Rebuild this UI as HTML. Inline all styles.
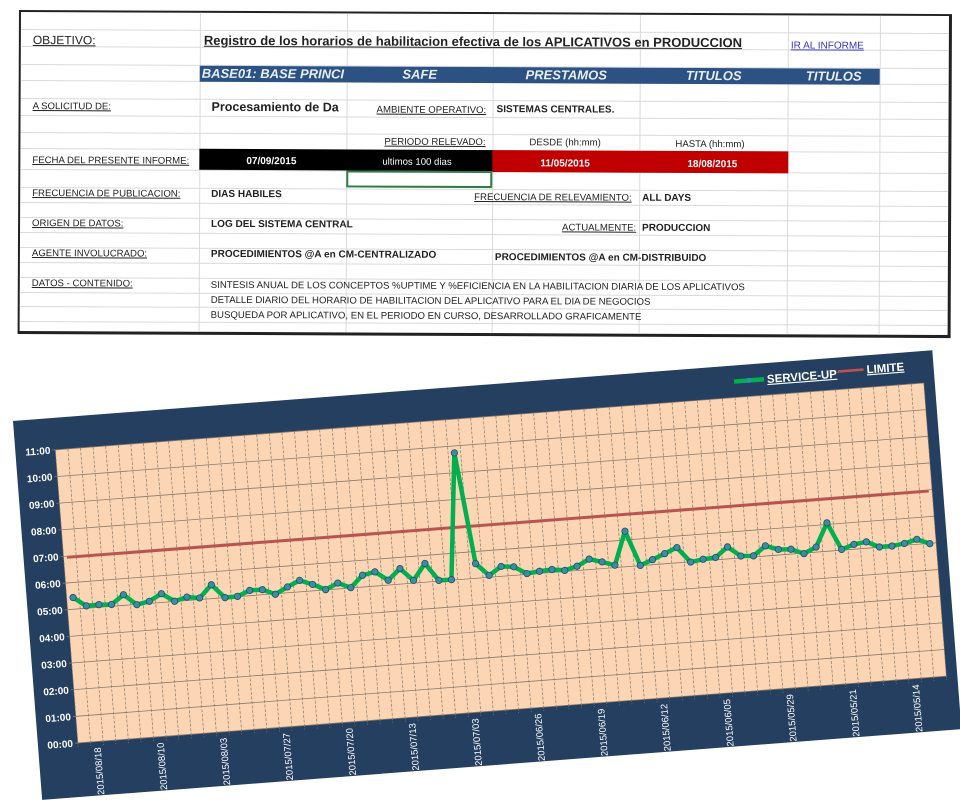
<!DOCTYPE html>
<html><head><meta charset="utf-8">
<style>
html,body{margin:0;padding:0;background:#fff;width:960px;height:800px;overflow:hidden;font-family:"Liberation Sans",Arial,sans-serif;}
#sheet{position:absolute;left:19px;top:10px;width:933px;height:324px;border:2px solid #222;border-right-width:3px;border-bottom-width:3px;transform:rotate(0.25deg);transform-origin:0 0;background:#fff;box-sizing:border-box;}
.hl{position:absolute;left:0;right:0;height:1px;background:#dadada;}
.vl{position:absolute;top:0;bottom:0;width:1px;background:#dadada;}
.t{position:absolute;font-size:10px;color:#222;white-space:nowrap;line-height:14px;}
.u{text-decoration:underline;}
.lb{font-size:9.6px;}
.b{font-weight:bold;}
.band{position:absolute;}
.hd{position:absolute;color:#e8eef6;font-weight:bold;font-style:italic;font-size:13px;text-align:center;line-height:16px;}
</style></head>
<body>
<div id="sheet">
  <div class="vl" style="left:179px"></div><div class="vl" style="left:326px"></div><div class="vl" style="left:472px"></div><div class="vl" style="left:619px"></div><div class="vl" style="left:767px"></div><div class="vl" style="left:859px"></div>
  <div class="hl" style="top:17px"></div><div class="hl" style="top:34px"></div><div class="hl" style="top:52px"></div><div class="hl" style="top:68px"></div><div class="hl" style="top:86px"></div><div class="hl" style="top:103px"></div><div class="hl" style="top:120px"></div><div class="hl" style="top:136px"></div><div class="hl" style="top:157px"></div><div class="hl" style="top:175px"></div><div class="hl" style="top:190px"></div><div class="hl" style="top:205px"></div><div class="hl" style="top:220px"></div><div class="hl" style="top:235px"></div><div class="hl" style="top:250px"></div><div class="hl" style="top:265px"></div><div class="hl" style="top:280px"></div><div class="hl" style="top:294px"></div><div class="hl" style="top:309px"></div>
  <div class="band" style="left:179px;top:53px;width:680px;height:16px;background:#2b5282"></div>
  <div class="hd" style="left:181px;top:53px;text-align:left">BASE01: BASE PRINCI</div>
  <div class="hd" style="left:326px;top:53px;width:146px">SAFE</div>
  <div class="hd" style="left:472px;top:53px;width:147px">PRESTAMOS</div>
  <div class="hd" style="left:619px;top:53px;width:148px">TITULOS</div>
  <div class="hd" style="left:767px;top:53px;width:92px">TITULOS</div>
  <div class="t u" style="left:12px;top:21px;font-size:12px">OBJETIVO:</div>
  <div class="t u b" style="left:183px;top:21px;font-size:13px">Registro de los horarios de habilitacion efectiva de los APLICATIVOS en PRODUCCION</div>
  <div class="t u" style="left:770px;top:24px;color:#3333cc">IR AL INFORME</div>
  <div class="t u lb" style="left:12px;top:88px">A SOLICITUD DE:</div>
  <div class="t b" style="left:191px;top:87px;font-size:12.5px">Procesamiento de Da</div>
  <div class="t u lb" style="left:356px;top:90px">AMBIENTE OPERATIVO:</div>
  <div class="t b" style="left:476px;top:89px">SISTEMAS CENTRALES.</div>
  <div class="t u lb" style="left:364px;top:122px">PERIODO RELEVADO:</div>
  <div class="t lb" style="left:509px;top:122px">DESDE (hh:mm)</div>
  <div class="t lb" style="left:655px;top:123px">HASTA (hh:mm)</div>
  <div class="band" style="left:179px;top:136px;width:294px;height:21px;background:#000"></div>
  <div class="band" style="left:472px;top:136px;width:296px;height:22px;background:#c00000"></div>
  <div class="band" style="left:326px;top:157px;width:146px;height:17px;border:2px solid #2e7d45;box-sizing:border-box"></div>
  <div class="t u lb" style="left:12px;top:142px">FECHA DEL PRESENTE INFORME:</div>
  <div class="t b" style="left:226px;top:142px;color:#fff">07/09/2015</div>
  <div class="t lb" style="left:362px;top:142px;color:#fff">ultimos 100 dias</div>
  <div class="t b" style="left:520px;top:143px;color:#fff">11/05/2015</div>
  <div class="t b" style="left:667px;top:143px;color:#fff">18/08/2015</div>
  <div class="t u lb" style="left:12px;top:175px">FRECUENCIA DE PUBLICACION:</div>
  <div class="t b" style="left:191px;top:175px">DIAS HABILES</div>
  <div class="t u lb" style="left:454px;top:177px">FRECUENCIA DE RELEVAMIENTO:</div>
  <div class="t b" style="left:622px;top:177px">ALL DAYS</div>
  <div class="t u lb" style="left:12px;top:205px">ORIGEN DE DATOS:</div>
  <div class="t b" style="left:191px;top:205px">LOG DEL SISTEMA CENTRAL</div>
  <div class="t u lb" style="left:542px;top:207px">ACTUALMENTE:</div>
  <div class="t b" style="left:622px;top:207px">PRODUCCION</div>
  <div class="t u lb" style="left:12px;top:235px">AGENTE INVOLUCRADO:</div>
  <div class="t b" style="left:191px;top:235px">PROCEDIMIENTOS @A en CM-CENTRALIZADO</div>
  <div class="t b" style="left:475px;top:237px">PROCEDIMIENTOS @A en CM-DISTRIBUIDO</div>
  <div class="t u lb" style="left:12px;top:265px">DATOS - CONTENIDO:</div>
  <div class="t lb" style="left:191px;top:266px">SINTESIS ANUAL DE LOS CONCEPTOS %UPTIME Y %EFICIENCIA EN LA HABILITACION DIARIA DE LOS APLICATIVOS</div>
  <div class="t lb" style="left:191px;top:281px">DETALLE DIARIO DEL HORARIO DE HABILITACION DEL APLICATIVO PARA EL DIA DE NEGOCIOS</div>
  <div class="t lb" style="left:191px;top:296px">BUSQUEDA POR APLICATIVO, EN EL PERIODO EN CURSO, DESARROLLADO GRAFICAMENTE</div>
</div>

<div id="panel" style="position:absolute;left:13px;top:421px;width:922px;height:380px;background:#243f60;transform:rotate(-4.4deg);transform-origin:0 0">
<svg id="chart" width="922" height="380" xmlns="http://www.w3.org/2000/svg" style="position:absolute;left:0;top:0"></svg>
</div>

<script>
const serviceUp = [5.44,5.09,5.10,5.07,5.40,4.99,5.08,5.33,5.01,5.13,5.06,5.52,5.00,5.01,5.20,5.19,4.98,5.22,5.43,5.24,5.01,5.22,5.01,5.44,5.53,5.18,5.58,5.10,5.70,5.03,5.02,9.74,5.55,5.07,5.37,5.32,5.03,5.08,5.11,5.04,5.16,5.39,5.25,5.09,6.33,5.01,5.19,5.38,5.57,4.99,5.06,5.09,5.45,5.07,5.04,5.38,5.21,5.18,4.98,5.19,6.06,5.03,5.18,5.24,5.01,5.01,5.07,5.19,4.99];
const limitValues = [6.95, 6.95];
const dateLabels = ["2015/08/18","2015/08/10","2015/08/03","2015/07/27","2015/07/20","2015/07/13","2015/07/03","2015/06/26","2015/06/19","2015/06/12","2015/06/05","2015/05/29","2015/05/21","2015/05/14"];
const yTicks = ["00:00","01:00","02:00","03:00","04:00","05:00","06:00","07:00","08:00","09:00","10:00","11:00"];

const NS = "http://www.w3.org/2000/svg";
const svg = document.getElementById('chart');
const PL = 40, PR = 911, PT = 32, PB = 326, YMAX = 11;
const n = serviceUp.length;
const bw = (PR - PL) / n;
function xPos(i){ return PL + bw * (i + 0.5); }
function yPos(v){ return PB - (v / YMAX) * (PB - PT); }
function mk(tag, attrs){ const e = document.createElementNS(NS, tag); for (const k in attrs) e.setAttribute(k, attrs[k]); svg.appendChild(e); return e; }

const bg = mk('rect', {x:PL, y:PT, width:PR-PL, height:PB-PT, fill:'#fcd5b4'});



for (let i = 0; i <= n; i++) {
  const x = PL + bw * i;
  const l = mk('line', {x1:x, y1:PT, x2:x, y2:PB + 4, stroke:'#8a7a6a', 'stroke-width':0.7, 'stroke-dasharray':'3,1.5'});
  
  
}
yTicks.forEach((t, k) => {
  const y = yPos(k);
  const l = mk('line', {x1:PL - 3, y1:y, x2:PR, y2:y, stroke:'#8a7a6a', 'stroke-width':0.8});
  
  
  const tx = mk('text', {x:PL - 5, y:y + 3.5, 'text-anchor':'end', fill:'#fff', 'font-size':10, 'font-weight':'bold', 'font-family':'Liberation Sans, sans-serif'});
  tx.textContent = t;
  
  
});

dateLabels.forEach((d, k) => {
  const i = 1 + k * 5;
  const x = xPos(i);
  const tx = mk('text', {x:0, y:0, transform:`translate(${x + 3.5},${PB + 6}) rotate(-90)`, 'text-anchor':'end', fill:'#fff', 'font-size':9.5, 'font-family':'Liberation Sans, sans-serif'});
  tx.textContent = d;
  
  
});

const lim = mk('line', {x1:xPos(0) - 3, y1:yPos(limitValues[0]), x2:xPos(n - 1) + 3, y2:yPos(limitValues[1]), stroke:'#c0504d', 'stroke-width':2.6});



const pts = serviceUp.map((v, i) => xPos(i).toFixed(1) + ',' + yPos(v).toFixed(1)).join(' ');
const pl = mk('polyline', {points:pts, fill:'none', stroke:'#00b050', 'stroke-width':4.5, 'stroke-linejoin':'round'});


serviceUp.forEach((v, i) => {
  const c = mk('circle', {cx:xPos(i), cy:yPos(v), r:3.2, fill:'#3a8ea3', stroke:'#1d4f5e', 'stroke-width':0.8});
  
  
});

// legend
const lg1 = mk('line', {x1:722, y1:16, x2:752, y2:16, stroke:'#00b050', 'stroke-width':4.5});


const lgc = mk('circle', {cx:737, cy:16, r:2.5, fill:'#3a8ea3'});


const lt1 = mk('text', {x:755, y:20, fill:'#fff', 'font-size':11.5, 'font-weight':'bold', 'text-decoration':'underline', 'font-family':'Liberation Sans, sans-serif'});
lt1.textContent = 'SERVICE-UP';


const lg2 = mk('line', {x1:826, y1:14, x2:852, y2:14, stroke:'#c0504d', 'stroke-width':2.6});


const lt2 = mk('text', {x:855, y:18, fill:'#fff', 'font-size':11.5, 'font-weight':'bold', 'text-decoration':'underline', 'font-family':'Liberation Sans, sans-serif'});
lt2.textContent = 'LIMITE';


</script>
</body></html>
